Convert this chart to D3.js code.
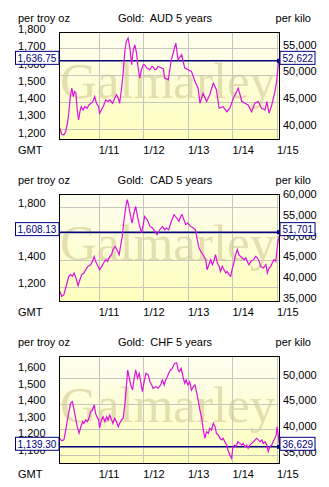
<!DOCTYPE html>
<html><head><meta charset="utf-8">
<script src="https://cdn.jsdelivr.net/npm/d3@7"></script>
<style>
body{margin:0;background:#fff;}
svg{display:block;}
text{font-family:"Liberation Sans",Arial,sans-serif;font-size:11px;fill:#000;}
</style></head><body><svg id="c" width="329" height="487"></svg>
<script>
// ---------------- data ----------------
const currencies = ["AUD", "CAD", "CHF"];
const OZ_PER_KILO = 32.1507;

const audYears = [2010.13,2010.17,2010.22,2010.26,2010.30,2010.33,2010.35,2010.37,2010.40,2010.43,2010.46,2010.49,2010.52,2010.55,2010.58,2010.61,2010.65,2010.69,2010.74,2010.78,2010.83,2010.87,2010.91,2010.95,2011.00,2011.02,2011.06,2011.10,2011.16,2011.21,2011.25,2011.31,2011.36,2011.40,2011.44,2011.47,2011.51,2011.55,2011.59,2011.62,2011.66,2011.70,2011.74,2011.77,2011.81,2011.85,2011.88,2011.92,2011.96,2012.00,2012.03,2012.08,2012.15,2012.19,2012.22,2012.26,2012.30,2012.33,2012.37,2012.41,2012.45,2012.48,2012.56,2012.63,2012.69,2012.73,2012.78,2012.86,2012.93,2013.01,2013.08,2013.16,2013.23,2013.27,2013.34,2013.42,2013.49,2013.57,2013.64,2013.70,2013.79,2013.87,2013.94,2014.02,2014.13,2014.21,2014.28,2014.35,2014.43,2014.50,2014.58,2014.65,2014.73,2014.77,2014.82,2014.88,2014.95,2014.99,2015.03,2015.065];
const audValues = [1246,1213,1207,1226,1275,1333,1391,1440,1478,1430,1459,1449,1352,1294,1342,1371,1352,1371,1362,1381,1391,1401,1430,1391,1371,1333,1352,1371,1410,1401,1410,1391,1420,1440,1420,1391,1469,1566,1701,1749,1769,1711,1614,1691,1730,1682,1604,1537,1585,1614,1614,1595,1585,1604,1604,1585,1590,1604,1600,1595,1590,1537,1527,1643,1700,1740,1643,1672,1595,1585,1575,1517,1478,1391,1449,1401,1440,1508,1469,1362,1371,1342,1362,1420,1478,1401,1391,1381,1342,1391,1401,1362,1352,1401,1333,1381,1459,1517,1624,1636.75];

const cadYears = [2010.13,2010.17,2010.22,2010.26,2010.30,2010.33,2010.37,2010.41,2010.45,2010.49,2010.54,2010.58,2010.62,2010.67,2010.71,2010.76,2010.82,2010.86,2010.90,2010.93,2010.97,2011.02,2011.07,2011.11,2011.16,2011.20,2011.25,2011.29,2011.32,2011.37,2011.41,2011.46,2011.49,2011.53,2011.56,2011.61,2011.64,2011.67,2011.71,2011.75,2011.79,2011.83,2011.87,2011.91,2011.96,2012.00,2012.03,2012.09,2012.15,2012.21,2012.26,2012.31,2012.37,2012.43,2012.48,2012.52,2012.57,2012.63,2012.69,2012.75,2012.80,2012.84,2012.87,2012.91,2012.95,2013.00,2013.06,2013.12,2013.17,2013.21,2013.25,2013.29,2013.34,2013.40,2013.43,2013.47,2013.51,2013.55,2013.58,2013.62,2013.66,2013.70,2013.73,2013.77,2013.81,2013.85,2013.88,2013.92,2013.96,2013.99,2014.03,2014.07,2014.11,2014.14,2014.18,2014.22,2014.26,2014.30,2014.33,2014.37,2014.41,2014.47,2014.52,2014.56,2014.60,2014.63,2014.69,2014.75,2014.78,2014.82,2014.86,2014.89,2014.93,2014.97,2014.99,2015.02,2015.065];
const cadValues = [1165,1127,1140,1190,1239,1277,1290,1277,1302,1265,1207,1252,1290,1302,1327,1352,1364,1389,1426,1389,1364,1327,1352,1377,1402,1389,1426,1439,1477,1501,1477,1439,1501,1576,1676,1801,1851,1813,1739,1676,1751,1801,1726,1664,1602,1664,1726,1701,1651,1639,1614,1589,1626,1651,1626,1639,1626,1689,1739,1714,1689,1726,1739,1701,1664,1676,1651,1639,1626,1551,1489,1464,1439,1402,1327,1364,1402,1364,1389,1439,1377,1352,1314,1352,1327,1302,1314,1290,1277,1327,1377,1439,1477,1439,1426,1414,1402,1414,1389,1364,1389,1402,1426,1414,1389,1352,1339,1364,1302,1339,1352,1377,1402,1389,1452,1539,1608.13];

const chfYears = [2010.13,2010.17,2010.22,2010.25,2010.30,2010.34,2010.37,2010.41,2010.45,2010.49,2010.52,2010.56,2010.60,2010.64,2010.67,2010.71,2010.75,2010.78,2010.82,2010.86,2010.90,2010.93,2010.96,2011.00,2011.02,2011.06,2011.10,2011.14,2011.18,2011.21,2011.25,2011.29,2011.32,2011.36,2011.40,2011.44,2011.47,2011.51,2011.55,2011.59,2011.62,2011.65,2011.68,2011.72,2011.76,2011.79,2011.83,2011.87,2011.91,2011.95,2011.98,2012.02,2012.06,2012.11,2012.15,2012.19,2012.22,2012.28,2012.33,2012.39,2012.43,2012.47,2012.50,2012.54,2012.57,2012.61,2012.65,2012.70,2012.75,2012.78,2012.81,2012.85,2012.89,2012.93,2012.96,2013.00,2013.04,2013.08,2013.12,2013.16,2013.20,2013.23,2013.27,2013.31,2013.34,2013.38,2013.42,2013.46,2013.49,2013.53,2013.57,2013.61,2013.64,2013.68,2013.72,2013.76,2013.79,2013.83,2013.87,2013.90,2013.94,2013.98,2014.01,2014.05,2014.08,2014.12,2014.17,2014.21,2014.24,2014.28,2014.32,2014.35,2014.39,2014.43,2014.47,2014.51,2014.54,2014.58,2014.62,2014.66,2014.69,2014.73,2014.77,2014.80,2014.84,2014.88,2014.91,2014.95,2014.98,2015.00,2015.03,2015.04,2015.065];
const chfValues = [1191,1176,1181,1221,1302,1362,1403,1413,1362,1302,1261,1221,1261,1291,1281,1302,1291,1312,1352,1362,1393,1342,1322,1302,1252,1302,1322,1291,1322,1302,1332,1302,1281,1312,1291,1261,1281,1302,1312,1403,1504,1605,1564,1514,1484,1544,1605,1554,1585,1524,1473,1534,1585,1575,1534,1514,1494,1504,1494,1514,1544,1514,1544,1564,1585,1605,1615,1645,1649,1605,1595,1615,1564,1524,1544,1514,1534,1484,1504,1514,1464,1423,1362,1312,1252,1191,1231,1221,1252,1241,1282,1261,1221,1211,1191,1181,1191,1170,1150,1120,1090,1070,1140,1150,1140,1170,1160,1150,1160,1140,1150,1130,1150,1160,1170,1181,1191,1181,1170,1181,1160,1170,1150,1110,1140,1150,1170,1191,1211,1261,1201,1170,1139.30];

const currentOzLabels = ["1,636.75", "1,608.13", "1,139.30"];
const currentKiloLabels = ["52,622", "51,701", "36,629"];
const currentOz = [1636.75, 1608.13, 1139.30];

const leftTicks = [
  [1200,1300,1400,1500,1600,1700,1800],
  [1200,1400,1600,1800],
  [1100,1200,1300,1400,1500,1600]
];
const rightTicks = [
  [40000,45000,50000,55000],
  [35000,40000,45000,50000,55000,60000],
  [35000,40000,45000,50000]
];
const yDomains = [[1178,1804],[1085,1893.6],[1035,1689.7]];
const gridOnKilo = [true,false,true];

const xDomain = [2010.111, 2015.065];
const xTickYears = [2011,2012,2013,2014,2015];
const xTickLabels = ["1/11","1/12","1/13","1/14","1/15"];

const series = [
  {years: audYears, values: audValues},
  {years: cadYears, values: cadValues},
  {years: chfYears, values: chfValues}
];

// ---------------- drawing ----------------
const svg = d3.select("#c");
const L = 59, R = 280, H = 108;
const tops = [32, 194, 356];

const defs = svg.append("defs");
const grad = defs.append("linearGradient").attr("id","bg").attr("x1",0).attr("y1",0).attr("x2",0).attr("y2",1);
grad.append("stop").attr("offset","0%").attr("stop-color","#fefef0");
grad.append("stop").attr("offset","100%").attr("stop-color","#ffffbd");

const x = d3.scaleLinear().domain(xDomain).range([L, R]);
const fmt = d3.format(",");

currencies.forEach((cur, i) => {
  const top = tops[i], bottom = top + H;
  const y = d3.scaleLinear().domain(yDomains[i]).range([bottom, top]);
  const yk = d3.scaleLinear().domain(yDomains[i].map(v => v * OZ_PER_KILO)).range([bottom, top]);
  const g = svg.append("g");

  defs.append("clipPath").attr("id","clip"+i)
    .append("rect").attr("x",L).attr("y",top).attr("width",R-L).attr("height",H);

  // background
  g.append("rect").attr("x",L).attr("y",top).attr("width",R-L).attr("height",H).attr("fill","url(#bg)");

  // watermark
  g.append("text").attr("clip-path","url(#clip"+i+")")
    .attr("x", L + 1).attr("y", top + 66)
    .style("font-family","'Liberation Serif','Times New Roman',serif")
    .style("font-size","51px").style("fill","#d9d4a0").style("fill-opacity",0.75)
    .text("Galmarley");

  // grid
  const gridY = gridOnKilo[i] ? rightTicks[i].map(v => yk(v)) : leftTicks[i].map(v => y(v));
  g.selectAll(".hg").data(gridY.filter(v => v > top + 1 && v < bottom - 1)).enter().append("line")
    .attr("x1",L).attr("x2",R).attr("y1",d => Math.round(d)+0.5).attr("y2",d => Math.round(d)+0.5)
    .attr("stroke","#c6c6c0").attr("stroke-width",1);
  g.selectAll(".vg").data(xTickYears.filter(v => x(v) < R - 1)).enter().append("line")
    .attr("x1",d => Math.round(x(d))+0.5).attr("x2",d => Math.round(x(d))+0.5)
    .attr("y1",top).attr("y2",bottom)
    .attr("stroke","#c6c6c0").attr("stroke-width",1);

  // current value line
  const yv = y(currentOz[i]);
  g.append("line").attr("x1",L).attr("x2",R).attr("y1",yv).attr("y2",yv)
    .attr("stroke","#000080").attr("stroke-width",1.5);

  // data line
  const pts = series[i].years.map((yr, k) => [yr, series[i].values[k]]);
  g.append("path").datum(pts).attr("clip-path","url(#clip"+i+")")
    .attr("d", d3.line().x(d => x(d[0])).y(d => y(d[1])))
    .attr("fill","none").attr("stroke","#e010e0").attr("stroke-width",1.2);

  // frame
  g.append("rect").attr("x",L+0.5).attr("y",top+0.5).attr("width",R-L-1).attr("height",H-1)
    .attr("fill","none").attr("stroke","#000").attr("stroke-width",1);

  // end marker
  g.append("rect").attr("x",R-3).attr("y",yv-2).attr("width",4).attr("height",4).attr("fill","#000080");

  // left tick labels
  g.selectAll(".lt").data(leftTicks[i]).enter().append("text")
    .attr("x",18).attr("y",d => y(d) + 0.5).text(d => fmt(d));
  // right tick labels
  g.selectAll(".rt").data(rightTicks[i]).enter().append("text")
    .attr("x",283).attr("y",d => yk(d) + 0.5).text(d => fmt(d));

  // value boxes
  g.append("rect").attr("x",15.5).attr("y",yv-9.5).attr("width",43.5).attr("height",13)
    .attr("fill","#fff").attr("stroke","#000080");
  g.append("text").attr("x",17.5).attr("y",yv+1).style("fill","#000080").style("font-size","10px")
    .text(currentOzLabels[i]);
  g.append("rect").attr("x",280).attr("y",yv-9.5).attr("width",35).attr("height",13)
    .attr("fill","#fff").attr("stroke","#000080");
  g.append("text").attr("x",282.5).attr("y",yv+1).style("fill","#000080").style("font-size","10px")
    .text(currentKiloLabels[i]);

  // titles
  const ty = top - 10.5;
  g.append("text").attr("x",18).attr("y",ty).text("per troy oz");
  g.append("text").attr("x",165).attr("y",ty).attr("text-anchor","middle").style("white-space","pre")
    .text("Gold:  " + cur + " 5 years");
  g.append("text").attr("x",311).attr("y",ty).attr("text-anchor","end").text("per kilo");

  // x labels
  g.append("text").attr("x",18).attr("y",bottom + 13.5).text("GMT");
  g.selectAll(".xl").data(xTickYears).enter().append("text")
    .attr("x",d => x(d)).attr("y",bottom + 13.5).text((d,k) => xTickLabels[k]);
});
</script></body></html>
